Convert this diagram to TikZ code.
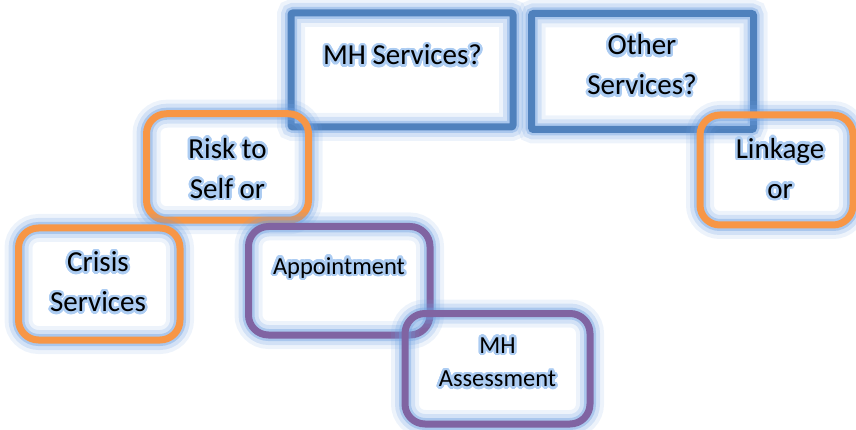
\documentclass[tikz,border=0pt]{standalone}
\usepackage{fontspec}
\setmainfont{Carlito}
\usepackage[copies]{contour}
\usepackage{tikz}
\definecolor{boxblue}{RGB}{79,129,189}
\definecolor{boxorange}{RGB}{247,150,70}
\definecolor{boxpurple}{RGB}{128,100,162}
\definecolor{glowblue}{RGB}{110,160,225}
\definecolor{textglow}{RGB}{172,204,242}
\contourlength{2.5pt}
\contournumber{24}
\newcommand{\halo}[1]{\contour{textglow}{#1}}
\tikzset{
  glow/.style={preaction={draw=glowblue, draw opacity=.12, line width=28pt},
               preaction={draw=glowblue, draw opacity=.22, line width=20pt},
               preaction={draw=glowblue, draw opacity=.4, line width=12pt}},
  qbox/.style={glow, draw=boxblue, line width=7pt, rounded corners=2pt, inner sep=0pt},
  rbox/.style={glow, draw=#1, line width=7pt, rounded corners=20pt, inner sep=0pt},
  txt/.style={font=\fontsize{29}{40}\selectfont, align=center, anchor=base, inner sep=0pt},
  smalltxt/.style={txt, font=\fontsize{24.5}{33.5}\selectfont}
}

\begin{document}
\begin{tikzpicture}[x=1pt, y=-1pt]
  \useasboundingbox (0,0) rectangle (856,430);
  % Question boxes
  \node[qbox, minimum width=222, minimum height=114] (mh) at (402,70) {};
  \node[qbox, minimum width=222, minimum height=116] (other) at (642.5,71.5) {};
  % Orange boxes
  \node[rbox=boxorange, minimum width=162, minimum height=106.5] (risk) at (227.5,167) {};
  \node[rbox=boxorange, minimum width=161.5, minimum height=112] (crisis) at (99.25,284) {};
  \node[rbox=boxorange, minimum width=153, minimum height=110] (link) at (776.5,170) {};
  % Purple boxes
  \node[rbox=boxpurple, minimum width=181.5, minimum height=108.5] (appt) at (339.25,280.75) {};
  \node[rbox=boxpurple, minimum width=185, minimum height=110.5] (assess) at (497.5,368.75) {};
  % Texts (base = last line)
  \node[txt] (mhtxt) at (402.5,65) {\halo{MH Services?}};
  \node[txt] (othertxt) at (642,95) {\halo{Other}\\\halo{Services?}};
  \node[txt] (risktxt) at (227.5,198.3) {\halo{Risk to}\\\halo{Self or}};
  \node[txt] (crisistxt) at (98,311.7) {\halo{Crisis}\\\halo{Services}};
  \node[txt] (linktxt) at (780,198.3) {\halo{Linkage}\\\halo{or}};
  \node[smalltxt] (appttxt) at (339,274) {\halo{Appointment}};
  \node[smalltxt] (assesstxt) at (497.5,386.7) {\halo{MH}\\\halo{Assessment}};
\end{tikzpicture}
\end{document}
